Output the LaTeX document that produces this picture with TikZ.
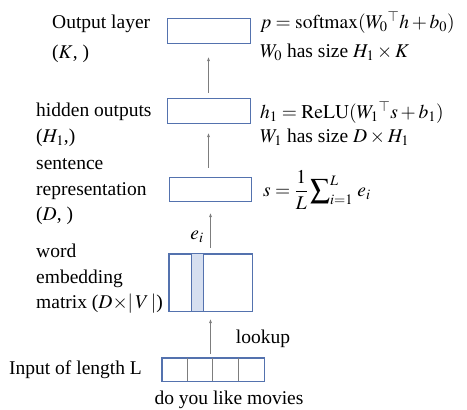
\documentclass[tikz,border=0pt]{standalone}
\usepackage{mathptmx}
\usepackage{fontspec}
\setmainfont{Liberation Serif}
\usepackage{tikz}
\usetikzlibrary{positioning,arrows.meta,calc}

\definecolor{boxblue}{RGB}{84,114,174}
\definecolor{colfill}{RGB}{214,223,240}
\definecolor{arrgray}{RGB}{125,125,125}

\tikzset{
  layer/.style={draw=boxblue, line width=0.8pt, minimum width=83pt, minimum height=25pt, inner sep=0pt},
  arr/.style={draw=arrgray, line width=0.5pt, -{Stealth[length=4pt,width=3pt]}},
  lbl/.style={anchor=west, align=left, inner sep=0pt}
}

\begin{document}
\begin{tikzpicture}[x=1pt,y=-1pt,font=\fontsize{19.5}{25.5}\selectfont]
\useasboundingbox (0,0) rectangle (467,410);
% layers
\node[layer] (out) at (208.5,30.5) {};
\node[layer] (hid) at (208.5,110.5) {};
\node[layer, minimum width=82pt, minimum height=24pt] (sent) at (210,189) {};
\node[layer, minimum height=57pt] (emb) at (210.5,282.5) {};
\fill[colfill] (191,254) rectangle (203,311);
\draw[boxblue, line width=0.8pt] (191,254) -- (191,311) (203,254) -- (203,311);
\draw[boxblue, line width=0.8pt] (emb.north west) rectangle (emb.south east);
\node[layer, minimum width=102pt, minimum height=23pt] (inp) at (213,369.5) {};
\draw[arrgray, line width=0.5pt] (187,358) -- (187,381) (212,358) -- (212,381) (238,358) -- (238,381);
\draw[boxblue, line width=0.8pt] (inp.north west) rectangle (inp.south east);
% connectors
\draw[arr, shorten <=4pt, shorten >=8pt] (emb.south |- inp.north) -- (emb.south);
\draw[arr, shorten <=6pt, shorten >=12pt] (emb.north) -- (emb.north |- sent.south);
\draw[arr, shorten <=9pt, shorten >=10pt] (hid.south |- sent.north) -- (hid.south);
\draw[arr, shorten <=5pt, shorten >=14pt] (hid.north) -- (out.south);
% left labels
\node[lbl] (outlbl) at (52,39) {Output layer\\[4.5pt]($K$, )};
\node[lbl] (hidlbl) at (36,125) {hidden outputs\\($H_1$,)};
\node[lbl] (sentlbl) at (36,192) {sentence\\representation\\($D$, )};
\node[lbl] (emblbl) at (36,279) {word\\embedding\\matrix ($D{\times}|\,V\,|$)};
\node[lbl] (inplbl) at (9,370) {Input of length L};
\node (words) at (229,400) {do you like movies};
\node (lookup) at (263,339) {lookup};
\node (elbl) at (197,237) {$e_i$};
% formulas
\node[lbl] (pform) at (260,22) {$p=\mathrm{softmax}(W_0{}^{\top}h+b_0)$};
\node[lbl] (w0) at (260,52) {$W_0$ has size $H_1\times K$};
\node[lbl] (hform) at (260,112) {$h_1=\mathrm{ReLU}(W_1{}^{\top}s+b_1)$};
\node[lbl] (w1) at (260,137) {$W_1$ has size $D\times H_1$};
\node[lbl] (sform) at (263,190) {$\displaystyle s=\frac{1}{L}\sum\nolimits_{i=1}^{L}\,e_i$};
\end{tikzpicture}
\end{document}
